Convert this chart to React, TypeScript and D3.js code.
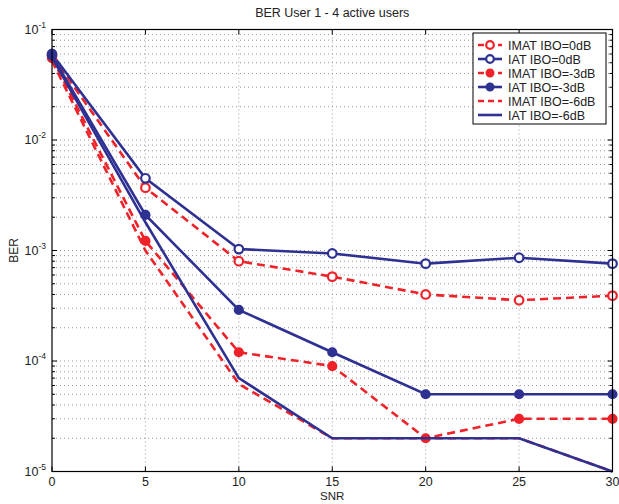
import React from "react";
import * as d3 from "d3";

const snr = [0, 5, 10, 15, 20, 25, 30];
const imat0 = [0.058, 3.7e-3, 8.0e-4, 5.8e-4, 4.0e-4, 3.55e-4, 3.9e-4];
const iat0 = [0.06, 4.5e-3, 1.03e-3, 9.4e-4, 7.6e-4, 8.6e-4, 7.6e-4];
const imat3 = [0.055, 1.22e-3, 1.2e-4, 9.0e-5, 2e-5, 3e-5, 3e-5];
const iat3 = [0.058, 2.1e-3, 2.9e-4, 1.2e-4, 5e-5, 5e-5, 5e-5];
const imat6 = [0.052, 1.0e-3, 6.2e-5, 2e-5, 2e-5, 2e-5, 1e-5];
const iat6 = [0.056, 1.8e-3, 7e-5, 2e-5, 2e-5, 2e-5, 1e-5];
const xTicks = [0, 5, 10, 15, 20, 25, 30];
const yExps = [-5, -4, -3, -2, -1];

const RED = "#EF2229";
const BLUE = "#2E3192";

const series = [
  { name: "IMAT IBO=0dB", data: imat0, color: RED, dash: true, marker: "open" },
  { name: "IAT IBO=0dB", data: iat0, color: BLUE, dash: false, marker: "open" },
  { name: "IMAT IBO=-3dB", data: imat3, color: RED, dash: true, marker: "filled" },
  { name: "IAT IBO=-3dB", data: iat3, color: BLUE, dash: false, marker: "filled" },
  { name: "IMAT IBO=-6dB", data: imat6, color: RED, dash: true, marker: "none" },
  { name: "IAT IBO=-6dB", data: iat6, color: BLUE, dash: false, marker: "none" },
];

export default function App() {
  const W = 619, H = 504;
  const L = 52, R = 612.5, T = 29.5, B = 471.5;
  const x = d3.scaleLinear().domain([0, 30]).range([L, R]);
  const y = d3.scaleLog().domain([1e-5, 1e-1]).range([B, T]);
  const line = d3.line<number>().x((_, i) => x(snr[i])).y((d) => y(d));
  const font = "Liberation Sans, Arial, sans-serif";

  const minor: number[] = [];
  for (let e = -5; e < -1; e++) for (let k = 2; k <= 9; k++) minor.push(k * Math.pow(10, e));

  const legX = 473, legY = 33, legW = 133, legH = 91;

  return (
    <svg width={W} height={H} style={{ position: "absolute", left: 0, top: 0, background: "#fff" }}>
      <rect x={0} y={0} width={W} height={H} fill="#fff" />
      {/* grid */}
      <g stroke="#999" strokeWidth={1} strokeDasharray="1,3">
        {xTicks.slice(1, -1).map((t) => (
          <line key={"gx" + t} x1={x(t)} x2={x(t)} y1={T} y2={B} />
        ))}
        {[...minor, 1e-4, 1e-3, 1e-2].map((v, i) => (
          <line key={"gy" + i} x1={L} x2={R} y1={y(v)} y2={y(v)} />
        ))}
      </g>
      {/* ticks */}
      <g stroke="#000" strokeWidth={1}>
        {xTicks.map((t) => (
          <g key={"tx" + t}>
            <line x1={x(t)} x2={x(t)} y1={B} y2={B - 5} />
            <line x1={x(t)} x2={x(t)} y1={T} y2={T + 5} />
          </g>
        ))}
        {yExps.map((e) => (
          <g key={"ty" + e}>
            <line x1={L} x2={L + 5} y1={y(Math.pow(10, e))} y2={y(Math.pow(10, e))} />
            <line x1={R} x2={R - 5} y1={y(Math.pow(10, e))} y2={y(Math.pow(10, e))} />
          </g>
        ))}
        {minor.map((v, i) => (
          <g key={"tm" + i}>
            <line x1={L} x2={L + 3} y1={y(v)} y2={y(v)} />
            <line x1={R} x2={R - 3} y1={y(v)} y2={y(v)} />
          </g>
        ))}
      </g>
      {/* lines */}
      {series.map((s) => (
        <g key={s.name}>
          <path
            d={line(s.data) || ""}
            fill="none"
            stroke={s.color}
            strokeWidth={2.6}
            strokeDasharray={s.dash ? "8,5" : undefined}
          />
          {s.marker !== "none" &&
            s.data.map((d, i) => (
              <circle
                key={i}
                cx={x(snr[i])}
                cy={y(d)}
                r={s.marker === "open" ? 4.3 : 4}
                fill={s.marker === "open" ? "#fff" : s.color}
                stroke={s.color}
                strokeWidth={2.2}
              />
            ))}
        </g>
      ))}
      {/* frame */}
      <rect x={L} y={T} width={R - L} height={B - T} fill="none" stroke="#000" strokeWidth={1.2} />
      {/* x labels */}
      <g fontFamily={font} fill="#222" textAnchor="middle">
        {xTicks.map((t) => (
          <text key={"lx" + t} x={x(t)} y={486} fontSize={12.5}>
            {t}
          </text>
        ))}
        <text x={(L + R) / 2} y={500} fontSize={11.5}>SNR</text>
        <text x={(L + R) / 2} y={17} fontSize={12.5}>BER User 1 - 4 active users</text>
      </g>
      {/* y labels */}
      <g fontFamily={font} fill="#222">
        {yExps.map((e) => (
          <text key={"ly" + e} x={46} y={y(Math.pow(10, e)) + 4} fontSize={12.5} textAnchor="end">
            10
            <tspan fontSize={8.5} dy={-6}>
              {e}
            </tspan>
          </text>
        ))}
        <text transform={`translate(18,${(T + B) / 2}) rotate(-90)`} fontSize={12} textAnchor="middle">
          BER
        </text>
      </g>
      {/* legend */}
      <g>
        <rect x={legX} y={legY} width={legW} height={legH} fill="#fff" stroke="#000" strokeWidth={1} />
        {series.map((s, i) => {
          const cy = legY + 12 + i * 14;
          return (
            <g key={"lg" + s.name}>
              <line
                x1={legX + 5}
                x2={legX + 29}
                y1={cy}
                y2={cy}
                stroke={s.color}
                strokeWidth={2.6}
                strokeDasharray={s.dash ? "6,4" : undefined}
              />
              {s.marker !== "none" && (
                <circle
                  cx={legX + 17}
                  cy={cy}
                  r={s.marker === "open" ? 3.8 : 3.4}
                  fill={s.marker === "open" ? "#fff" : s.color}
                  stroke={s.color}
                  strokeWidth={2.2}
                />
              )}
              <text x={legX + 35} y={cy + 4.5} fontFamily={font} fontSize={12.5} fill="#222">
                {s.name}
              </text>
            </g>
          );
        })}
      </g>
    </svg>
  );
}
